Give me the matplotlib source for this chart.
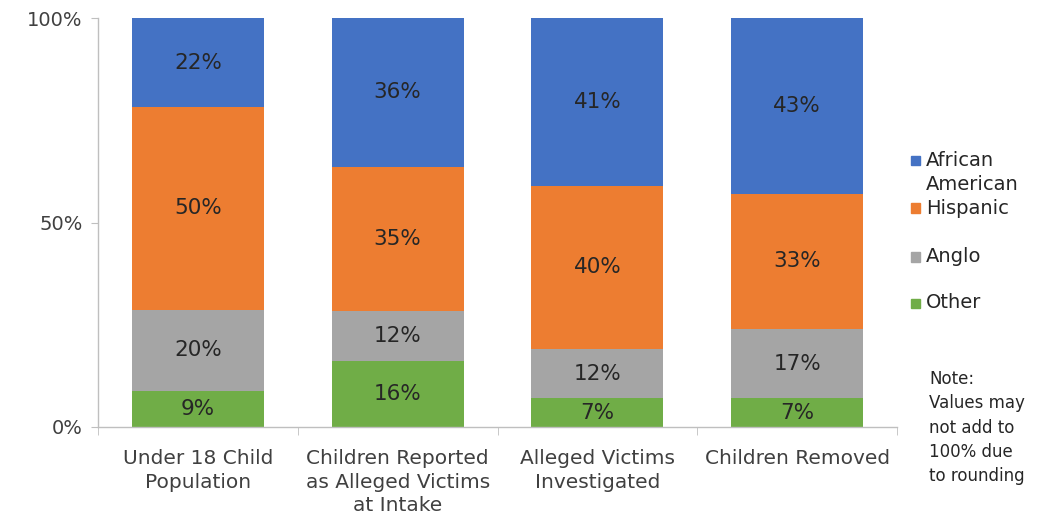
import matplotlib
matplotlib.use("Agg")
import matplotlib.pyplot as plt
import numpy as np
from matplotlib.patches import Rectangle

categories = ["Under 18 Child\nPopulation",
              "Children Reported\nas Alleged Victims\nat Intake",
              "Alleged Victims\nInvestigated",
              "Children Removed"]
series_names = ["Other", "Anglo", "Hispanic", "African American"]
other = [9, 16, 7, 7]
anglo = [20, 12, 12, 17]
hispanic = [50, 35, 40, 33]
african_american = [22, 36, 41, 43]
colors = ["#70AD47", "#A5A5A5", "#ED7D31", "#4472C4"]
y_ticks = [0, 50, 100]
y_tick_labels = ["0%", "50%", "100%"]
legend_labels = ["African\nAmerican", "Hispanic", "Anglo", "Other"]
note = "Note:\nValues may\nnot add to\n100% due\nto rounding"

plt.rcParams['font.family'] = ['DejaVu Sans']
fig = plt.figure(figsize=(10.43, 5.17), dpi=100)
ax = fig.add_axes([98/1043, 1-427/517, (897-98)/1043, (427-18)/517])

data = np.array([other, anglo, hispanic, african_american], dtype=float)
totals = data.sum(axis=0)
pct = data / totals * 100
x = np.arange(len(categories))
bottom = np.zeros(len(categories))
for i, name in enumerate(series_names):
    ax.bar(x, pct[i], bottom=bottom, width=0.66, color=colors[i], label=name, zorder=2)
    for j in range(len(categories)):
        ax.text(x[j], bottom[j] + pct[i][j] / 2, f"{int(data[i][j])}%",
                ha="center", va="center", fontsize=15.5, color="#262626", zorder=3)
    bottom += pct[i]

ax.set_xlim(-0.5, len(categories) - 0.5)
ax.set_ylim(0, 100)
ax.set_yticks(y_ticks)
ax.set_yticklabels(y_tick_labels, fontsize=14, color="#404040")
ax.set_xticks(x)
ax.set_xticklabels(categories, fontsize=14.5, color="#404040", linespacing=1.3)
ax.tick_params(axis="x", length=0, pad=16)
ax.tick_params(axis="y", length=5, color="#BFBFBF", pad=6)
ax.set_xticks(np.arange(len(categories) + 1) - 0.5, minor=True)
ax.tick_params(axis="x", which="minor", length=6, color="#BFBFBF")
for s in ["top", "right"]:
    ax.spines[s].set_visible(False)
for s in ["left", "bottom"]:
    ax.spines[s].set_color("#BFBFBF")
    ax.spines[s].set_linewidth(1.0)

# legend (manual, top to bottom)
legend_y = [160, 208, 257, 303]
for k, lab in enumerate(legend_labels):
    ci = len(series_names) - 1 - k
    yy = 1 - legend_y[k] / 517
    fig.patches.append(Rectangle((911/1043, yy - 4.5/517), 9/1043, 9/517,
                                 transform=fig.transFigure, color=colors[ci]))
    if "\n" in lab:
        fig.text(926/1043, yy + 9/517, lab, ha="left", va="top",
                 fontsize=14, color="#262626", linespacing=1.35)
    else:
        fig.text(926/1043, yy, lab, ha="left", va="center",
                 fontsize=14, color="#262626")

fig.text(929/1043, 1 - 370/517, note, ha="left", va="top", fontsize=12,
         color="#262626", linespacing=1.45)

fig.savefig("out.png", dpi=100)
